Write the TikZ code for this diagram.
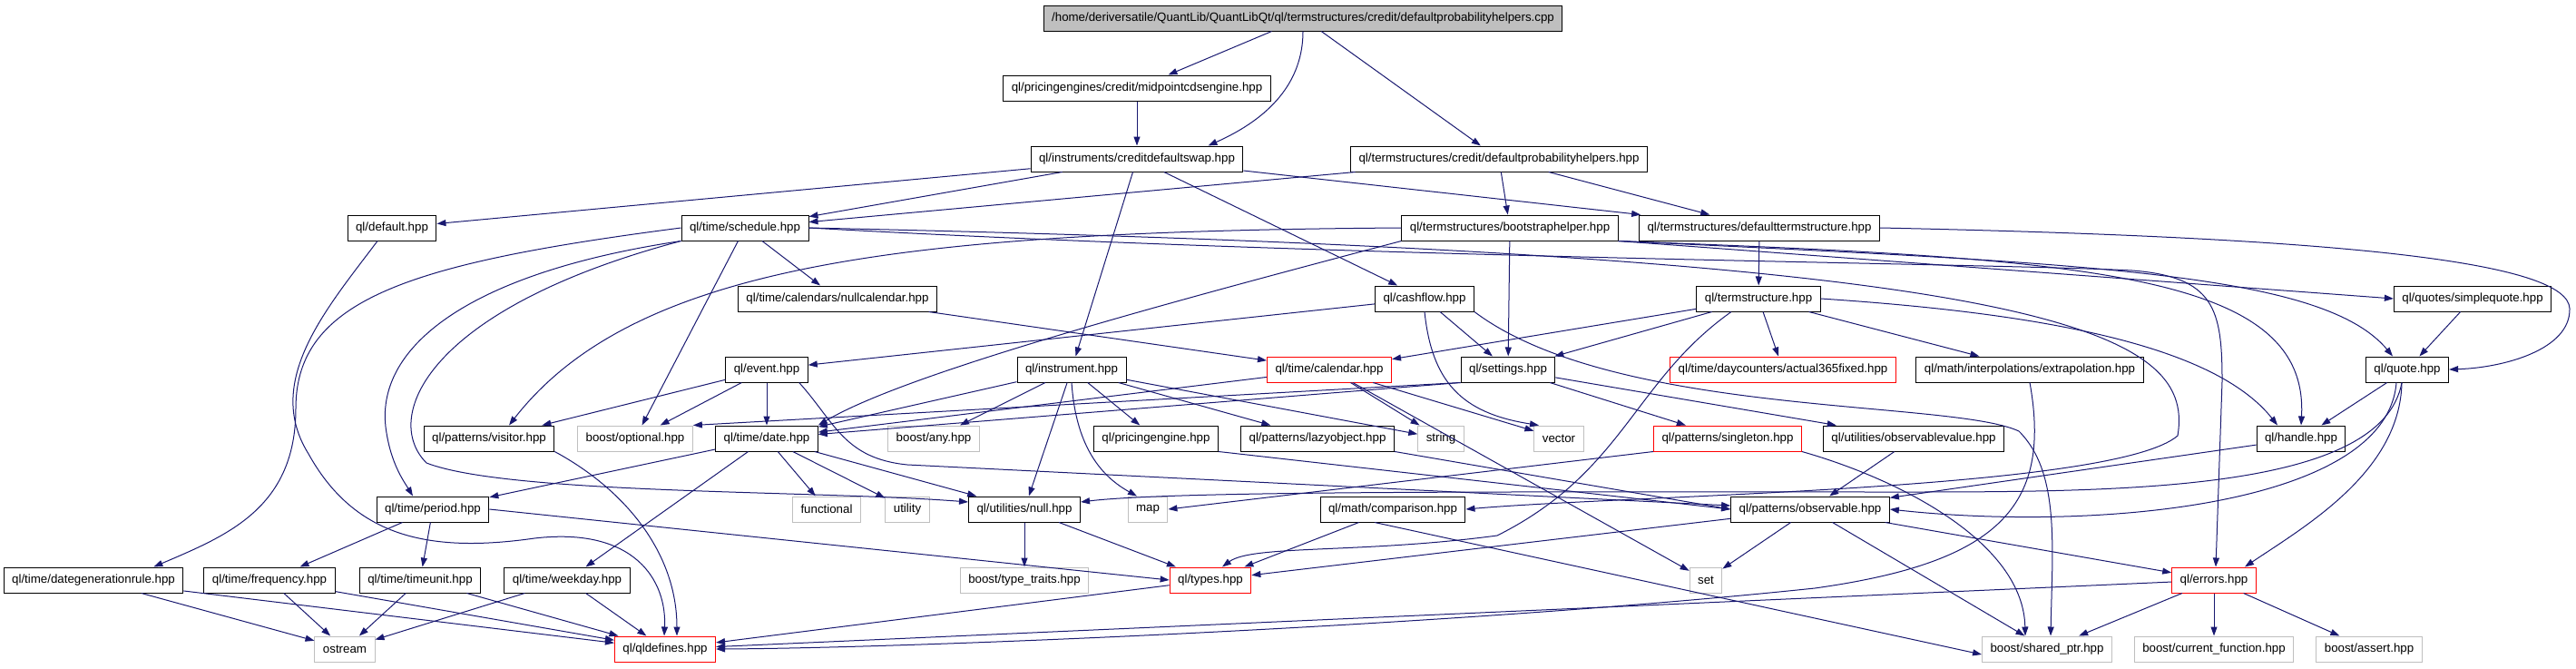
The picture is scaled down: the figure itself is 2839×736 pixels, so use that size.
\documentclass[tikz,border=0pt]{standalone}
\usepackage{fontspec}
\setmainfont{Liberation Sans}
\usetikzlibrary{arrows.meta}
\definecolor{lnk}{HTML}{191970}
\definecolor{sysgray}{HTML}{BFBFBF}
\definecolor{cutred}{HTML}{FF0000}
\tikzset{
  gr/.style={x=1pt,y=-1pt,font=\fontsize{13.3}{15}\selectfont},
  hdr/.style={draw=black,line width=1pt,fill=white,minimum height=28pt,inner xsep=9pt,inner ysep=0pt},
  sys/.style={hdr,draw=sysgray},
  cut/.style={hdr,draw=cutred},
  src/.style={hdr,fill=sysgray},
  dep/.style={lnk,line width=1pt,-{Triangle[length=10pt,width=7pt]}}
}

\begin{document}
\begin{tikzpicture}[gr]
  \useasboundingbox (0,0) rectangle (2839,736);
  % files
  \node[src] (root) at (1436,20) {/home/deriversatile/QuantLib/QuantLibQt/ql/termstructures/credit/defaultprobabilityhelpers.cpp};
  \node[hdr] (mid) at (1253,97) {ql/pricingengines/credit/midpointcdsengine.hpp};
  \node[hdr] (cds) at (1253,175) {ql/instruments/creditdefaultswap.hpp};
  \node[hdr] (dph) at (1652,175) {ql/termstructures/credit/defaultprobabilityhelpers.hpp};
  \node[hdr] (dflt) at (432,251) {ql/default.hpp};
  \node[hdr] (sched) at (821,251) {ql/time/schedule.hpp};
  \node[hdr] (bh) at (1664,251) {ql/termstructures/bootstraphelper.hpp};
  \node[hdr] (dts) at (1939,251) {ql/termstructures/defaulttermstructure.hpp};
  \node[hdr] (nullcal) at (923,329) {ql/time/calendars/nullcalendar.hpp};
  \node[hdr] (cash) at (1570,329) {ql/cashflow.hpp};
  \node[hdr] (ts) at (1938,329) {ql/termstructure.hpp};
  \node[hdr] (squote) at (2725,329) {ql/quotes/simplequote.hpp};
  \node[hdr] (event) at (845,407) {ql/event.hpp};
  \node[hdr] (instr) at (1181,407) {ql/instrument.hpp};
  \node[cut] (cal) at (1465,407) {ql/time/calendar.hpp};
  \node[hdr] (settings) at (1662,407) {ql/settings.hpp};
  \node[cut] (act) at (1965,407) {ql/time/daycounters/actual365fixed.hpp};
  \node[hdr] (extrap) at (2237,407) {ql/math/interpolations/extrapolation.hpp};
  \node[hdr] (quote) at (2653,407) {ql/quote.hpp};
  \node[hdr] (visitor) at (539,483) {ql/patterns/visitor.hpp};
  \node[sys] (optional) at (700,483) {boost/optional.hpp};
  \node[hdr] (date) at (845,483) {ql/time/date.hpp};
  \node[sys] (any) at (1029,483) {boost/any.hpp};
  \node[hdr] (peng) at (1274,483) {ql/pricingengine.hpp};
  \node[hdr] (lazy) at (1452,483) {ql/patterns/lazyobject.hpp};
  \node[sys] (string) at (1588,483) {string};
  \node[sys] (vector) at (1718,483) {vector};
  \node[cut] (single) at (1904,483) {ql/patterns/singleton.hpp};
  \node[hdr] (obsval) at (2109,483) {ql/utilities/observablevalue.hpp};
  \node[hdr] (handle) at (2536,483) {ql/handle.hpp};
  \node[hdr] (period) at (477,561) {ql/time/period.hpp};
  \node[sys] (func) at (911,561) {functional};
  \node[sys] (util) at (1000,561) {utility};
  \node[hdr] (null) at (1129,561) {ql/utilities/null.hpp};
  \node[sys] (map) at (1265,561) {map};
  \node[hdr] (comp) at (1535,561) {ql/math/comparison.hpp};
  \node[hdr] (obs) at (1995,561) {ql/patterns/observable.hpp};
  \node[hdr] (dgr) at (103,639) {ql/time/dategenerationrule.hpp};
  \node[hdr] (freq) at (297,639) {ql/time/frequency.hpp};
  \node[hdr] (tunit) at (463,639) {ql/time/timeunit.hpp};
  \node[hdr] (wday) at (625,639) {ql/time/weekday.hpp};
  \node[sys] (ttraits) at (1129,639) {boost/type\_traits.hpp};
  \node[cut] (types) at (1334,639) {ql/types.hpp};
  \node[sys] (set) at (1880,639) {set};
  \node[cut] (errors) at (2440,639) {ql/errors.hpp};
  \node[sys] (ostream) at (380,715) {ostream};
  \node[cut] (qldef) at (733,715) {ql/qldefines.hpp};
  \node[sys] (sptr) at (2256,715) {boost/shared\_ptr.hpp};
  \node[sys] (curfun) at (2440,715) {boost/current\_function.hpp};
  \node[sys] (assert) at (2611,715) {boost/assert.hpp};

  % includes
  \foreach \a/\b in {root/mid, root/dph, mid/cds, cds/dflt, cds/sched, cds/instr, cds/cash, cds/dts,
      dph/sched, dph/bh, dph/dts, sched/nullcal, sched/optional, nullcal/cal, cash/event, cash/settings,
      bh/settings, bh.south east/squote.west, dts/ts, ts/cal, ts/settings, ts/act, ts/extrap,
      squote/quote, quote/handle, event/date, event/visitor, event/optional,
      instr/date, instr/any, instr/null, instr/peng, instr/lazy, instr/string,
      cal/date, cal/string, cal/vector, cal/set, settings/single, settings/obsval,
      settings.south west/date, settings.south west/optional.north east,
      date/period, date/wday, date/func, date/util, date/null,
      lazy/obs.west, peng.south east/obs.west, obsval/obs, handle/obs, single.south west/map.east,
      period/freq, period/tunit, period.east/types.west, null/ttraits, null/types, comp/types,
      obs/set, obs/sptr, obs/errors, obs/types,
      dgr/ostream, dgr/qldef, freq/ostream, freq/qldef, tunit/ostream, tunit/qldef, wday/ostream, wday/qldef,
      types/qldef, errors/qldef, errors/sptr, errors/curfun, errors/assert}
    \draw[dep] (\a) -- (\b);

  \draw[dep] (root.south) .. controls (1436,90) and (1400,130) .. ([xshift=-39pt]cds.north east);
  \draw[dep] ([xshift=-16pt]dflt.south) .. controls (360,340) and (290,420) .. (340,500)
    .. controls (390,590) and (470,610) .. (589,593) .. controls (700,580) and (735,640) .. ([xshift=-1pt]qldef.north);
  \draw[dep] (sched.west) .. controls (450,290) and (326,330) .. (326,450)
    .. controls (326,560) and (250,590) .. ([xshift=-33pt]dgr.north east);
  \draw[dep] (sched.south west) .. controls (520,300) and (415,380) .. (425,470)
    .. controls (430,510) and (445,530) .. ([xshift=-22pt]period.north);
  \draw[dep] (sched.south west) .. controls (470,340) and (420,460) .. (470,510)
    .. controls (560,545) and (900,540) .. ([yshift=8pt]null.west);
  \draw[dep] (sched.east) .. controls (1500,285) and (2200,290) .. (2350,298)
    .. controls (2440,305) and (2449,340) .. (2449,420) -- ([xshift=2pt]errors.north);
  \draw[dep] (sched.east) .. controls (2250,280) and (2420,360) .. (2400,480)
    .. controls (2330,540) and (1800,545) .. (comp.east);
  \draw[dep] (bh.west) .. controls (1000,255) and (700,290) .. ([xshift=22pt]visitor.north);
  \draw[dep] (bh.south west) .. controls (1300,330) and (1000,410) .. (date.north east);
  \draw[dep] (bh.south east) .. controls (2300,290) and (2560,300) .. ([xshift=-16pt]quote.north);
  \draw[dep] (bh.south east) .. controls (2300,285) and (2545,300) .. (handle.north);
  \draw[dep] (cash.south) .. controls (1578,420) and (1610,455) .. ([xshift=-22pt]vector.north);
  \draw[dep] (cash.south east) .. controls (1780,460) and (2150,440) .. (2225,475)
    .. controls (2270,520) and (2262,600) .. ([xshift=4pt]sptr.north);
  \draw[dep] ([xshift=-10pt]event.south east) .. controls (920,465) and (930,505) .. (1000,512) -- ([yshift=4pt]obs.west);
  \draw[dep] (instr.south) .. controls (1185,480) and (1205,520) .. ([xshift=-12pt]map.north);
  \draw[dep] ([xshift=-30pt]ts.south) .. controls (1800,420) and (1790,520) .. (1650,590)
    .. controls (1500,610) and (1380,600) .. ([xshift=13pt]types.north);
  \draw[dep] (ts.east) .. controls (2250,345) and (2440,380) .. ([xshift=-26pt]handle.north);
  \draw[dep] (extrap.south) .. controls (2262,560) and (2200,620) .. (2000,648)
    .. controls (1600,690) and (1000,714) .. (qldef.east);
  \draw[dep] (visitor.south east) .. controls (690,540) and (746,610) .. ([xshift=13pt]qldef.north);
  \draw[dep] ([xshift=-6pt]quote.south) .. controls (2645,520) and (2540,580) .. ([xshift=34pt]errors.north);
  \draw[dep] ([xshift=-12pt]quote.south) .. controls (2630,560) and (2300,585) .. (obs.east);
  \draw[dep] ([xshift=-6pt]quote.south) .. controls (2625,540) and (2350,542) .. (2100,542)
    .. controls (1700,542) and (1300,540) .. ([yshift=8pt]null.east);
  \draw[dep] (dts.east) .. controls (2600,262) and (2830,290) .. (2832,340)
    .. controls (2833,385) and (2760,405) .. (quote.east);
  \draw[dep] (single.south east) .. controls (2100,530) and (2230,600) .. ([xshift=-24pt]sptr.north);
  \draw[dep] ([xshift=-20pt]comp.south) -- ([yshift=-6pt]sptr.west);
\end{tikzpicture}
\end{document}
